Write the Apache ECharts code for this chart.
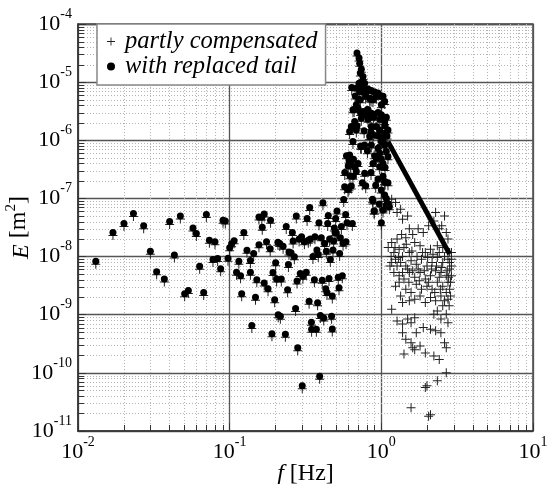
<!DOCTYPE html>
<html>
<head>
<meta charset="utf-8">
<script src="https://cdn.jsdelivr.net/npm/echarts@6/dist/echarts.min.js"></script>
<style>
html, body { margin: 0; padding: 0; background: #fff; }
#chart { width: 549px; height: 484px; }
</style>
</head>
<body>
<div id="chart"></div>
<script>
// decades shown on the axes (tick labels are 10^n)
const xDecades = [-2, -1, 0, 1];
const yDecades = [-11, -10, -9, -8, -7, -6, -5, -4];

// points shared by both spectra [f (Hz), E (m^2)]
const lowBand = [
  [0.0131,8.3e-9],[0.0170,2.6e-8],[0.0201,3.7e-8],[0.0232,5.5e-8],[0.0271,3.4e-8],[0.030,1.24e-8],
  [0.033,5.5e-9],[0.0371,4.1e-9],[0.0402,4.0e-8],[0.0432,1.06e-8],[0.0473,5.0e-8],[0.0505,2.3e-9],
  [0.0534,2.6e-9],[0.0573,3.1e-8],[0.0603,2.5e-8],[0.0634,6.8e-9],[0.0674,2.4e-9],[0.0702,5.3e-8],
  [0.0735,1.9e-8],[0.0776,8.9e-9],[0.080,1.8e-8],[0.0833,9.3e-9],[0.0872,6.2e-9],[0.0904,4.2e-8],
  [0.0936,4.1e-8],[0.0975,9.4e-9],[0.100,1.42e-8],[0.103,1.66e-8],[0.107,1.87e-8],[0.111,5.4e-9],
  [0.115,8.3e-9],[0.118,4.7e-9],[0.120,2.3e-9],[0.124,2.6e-8],[0.130,1.29e-8],[0.137,8.6e-9],
  [0.137,5.4e-9],[0.140,6.5e-10],[0.144,1.13e-8],[0.148,2.0e-9],[0.151,4.0e-9],[0.156,1.6e-8],
  [0.156,4.8e-8],[0.163,4.8e-8],[0.164,3.2e-8],[0.169,5.4e-8],[0.169,3.5e-9],[0.175,1.8e-8],
  [0.179,2.8e-9],[0.186,4.2e-8],[0.185,1.36e-8],[0.190,4.7e-10],[0.193,5.3e-9],[0.198,1.8e-9],
  [0.201,7.8e-9],[0.204,4.1e-9],[0.208,1.77e-8],[0.209,1.0e-9],[0.214,1.68e-8],[0.216,9.4e-10],
  [0.219,4.1e-9],[0.225,1.5e-8],[0.233,4.6e-10],[0.236,3.3e-8],[0.241,2.7e-9],[0.244,7.3e-9],
  [0.246,1.2e-8],[0.254,1.16e-8],[0.259,2.6e-8],[0.262,1.85e-8],[0.267,9.9e-9],[0.272,1.28e-9],
  [0.275,5.0e-8],[0.278,3.8e-9],[0.281,2.7e-10],[0.287,2.0e-8],[0.292,5.1e-9],[0.298,2.2e-8],
  [0.301,6.0e-11],[0.304,4.6e-9],[0.311,1.8e-8],[0.320,5.4e-9],[0.324,4.5e-8],[0.330,1.9e-8],
  [0.334,1.7e-9],[0.337,7.0e-8],[0.340,2.0e-8],[0.346,7.4e-10],[0.347,5.6e-10],[0.354,1.0e-8],
  [0.362,4.0e-9],[0.365,2.2e-8],[0.373,5.6e-10],[0.376,1.3e-8],[0.380,1.6e-9],[0.384,1.09e-8],
  [0.388,3.8e-8],[0.392,8.7e-11],[0.396,9.7e-10],[0.402,2.1e-8],[0.408,3.9e-9],[0.412,8.4e-8],
  [0.417,8.8e-10],[0.423,1.68e-8],[0.430,2.8e-9],[0.434,1.24e-8],[0.438,2.4e-9],[0.443,3.7e-8],
  [0.447,5.1e-8],[0.452,4.2e-9],[0.456,2.0e-8],[0.461,8.9e-9],[0.470,9.4e-10],[0.475,2.1e-9],
  [0.475,5.7e-10],[0.480,1.3e-8],[0.485,1.85e-8],[0.490,3.1e-8],[0.495,2.6e-8],[0.500,4.5e-8],
  [0.505,2.55e-8],[0.510,6.1e-8],[0.520,4.4e-9],[0.526,2.9e-9],[0.531,1.13e-8],[0.537,2.1e-8],
  [0.545,3.3e-8],[0.553,4.7e-9],[0.559,1.7e-8],[0.565,9.6e-8],[0.573,1.59e-7],[0.582,5.3e-8],
  [0.585,1.8e-8],[0.594,3.8e-8],[0.603,1.43e-7],[0.612,1.53e-7],[0.634,1.63e-7],[0.644,3.7e-8],
  [0.750,1.86e-7],[0.881,9.0e-8],[0.895,6.1e-8],[0.918,1.68e-7]
];

const peakBand = [
  [0.691,3.16e-5],[0.713,2.59e-5],[0.72,2.12e-5],[0.738,1.67e-5],[0.727,1.43e-5],[0.757,1.25e-5],
  [0.75,1.03e-5],[0.713,9.6e-6],[0.776,9.6e-6],[0.684,7.9e-6],[0.72,6.9e-6],[0.765,6.9e-6],
  [0.817,7.6e-6],[0.859,7.2e-6],[0.904,6.8e-6],[0.951,6.5e-6],[0.927,5.7e-6],[1.026,5.7e-6],
  [1.052,4.65e-6],[1.0,4.07e-6],[0.788,5.7e-6],[0.838,5.3e-6],[0.881,4.97e-6],[0.727,4.97e-6],
  [0.684,4.07e-6],[0.65,3.34e-6],[0.702,3.57e-6],[0.757,3.13e-6],[0.817,3.34e-6],[0.796,2.74e-6],
  [0.859,2.93e-6],[0.89,2.5e-6],[0.951,3.0e-6],[1.0,2.74e-6],[1.079,2.5e-6],[1.052,2.1e-6],
  [0.817,2.3e-6],[0.738,2.4e-6],[0.667,2.1e-6],[0.634,1.73e-6],[0.618,1.42e-6],[0.684,1.51e-6],
  [0.859,1.73e-6],[0.927,1.73e-6],[0.975,1.51e-6],[1.052,1.32e-6],[1.106,1.51e-6],[1.09,1.19e-6],
  [1.026,1.09e-6],[1.0,9.5e-7],[0.838,1.16e-6],[0.881,1.24e-6],[0.776,8.3e-7],[0.738,7.8e-7],
  [0.65,9.5e-7],[0.618,5.6e-7],[0.612,4.6e-7],[0.625,3.8e-7],[0.667,3.5e-7],[0.702,4.0e-7],
  [0.859,8.3e-7],[0.951,7.3e-7],[0.975,6.0e-7],[1.052,8.3e-7],[1.079,6.4e-7],[0.927,4.9e-7],
  [0.881,4.0e-7],[0.975,3.5e-7],[1.026,4.0e-7],[1.106,5.2e-7],[0.776,2.7e-7],[0.684,2.9e-7],
  [0.65,2.4e-7],[1.026,2.4e-7],[1.052,1.95e-7],[1.106,1.86e-7],[1.0,1.4e-7],[1.052,1.15e-7],
  [1.079,1.0e-7],[1.079,7.7e-8],[1.106,8.2e-8],[1.0,3.8e-8],[1.026,6.3e-8],
  [0.638,8.1e-6],[0.673,5.8e-6],[0.71,5.1e-6],[0.748,7.6e-6],[0.789,6.7e-6],[0.855,5.1e-6],
  [0.926,6.2e-6],[1.0,5.8e-6],[0.662,3.4e-6],[0.73,3.0e-6],[0.81,3.4e-6],[0.892,2.8e-6],
  [0.977,2.3e-6],[1.058,1.78e-6],[0.692,1.78e-6],[0.77,1.46e-6],[0.855,1.37e-6],[0.951,1.2e-6],
  [1.03,9.2e-7],[0.73,8.0e-7],[0.81,6.6e-7],[0.902,5.4e-7],[1.0,4.7e-7],[1.058,3.4e-7],
  [0.655,4.7e-7],[0.855,2.8e-7],[0.951,2.15e-7],[1.058,1.9e-7],[0.789,1.65e-7],[0.589,5.4e-7],
  [0.605,3.6e-7],[0.621,2.45e-7],[0.574,2.8e-7],[0.875,9.7e-8],[0.90,6.1e-8],[0.97,8.0e-8],
  [1.13,7.2e-8]
];

// "partly compensated" only, above ~1.1 Hz
const compensatedTail = [
  [1.17,9.7e-8],[1.24,8.5e-8],[1.11,8.0e-8],[1.27,5.7e-8],[1.34,6.5e-8],[1.38,4.4e-8],[1.49,5.0e-8],
  [2.28,5.7e-8],[2.61,5.0e-8],[2.41,3.0e-8],[2.68,2.6e-8],[2.75,2.0e-8],[2.50,3.4e-8],[2.22,4.1e-8],
  [2.05,3.4e-8],[1.89,2.6e-8],[1.75,3.0e-8],[1.61,2.4e-8],[1.53,3.0e-8],[1.45,2.1e-8],[1.36,2.4e-8],
  [1.27,2.0e-8],[1.17,1.75e-8],[1.11,1.43e-8],[1.21,1.17e-8],[1.31,1.34e-8],[1.41,1.43e-8],[1.53,1.17e-8],
  [1.66,1.75e-8],[1.80,1.53e-8],[1.95,1.17e-8],[2.11,1.34e-8],[2.34,1.53e-8],[2.54,1.43e-8],[2.82,1.17e-8],
  [2.75,9.0e-9],[2.54,7.9e-9],[2.34,9.6e-9],[2.16,7.9e-9],[2.0,6.9e-9],[1.84,9.0e-9],[1.70,7.4e-9],
  [1.57,8.5e-9],[1.45,6.9e-9],[1.34,7.9e-9],[1.24,9.0e-9],[1.14,6.9e-9],[1.21,5.3e-9],[1.31,4.7e-9],
  [1.41,4.1e-9],[1.53,5.3e-9],[1.66,4.4e-9],[1.80,5.3e-9],[1.95,4.1e-9],[2.11,4.7e-9],[2.28,5.7e-9],
  [2.47,5.3e-9],[2.68,4.7e-9],[2.82,6.1e-9],[2.90,6.9e-9],[2.75,3.6e-9],[2.54,3.1e-9],[2.34,3.6e-9],
  [2.16,2.75e-9],[2.0,3.1e-9],[1.84,2.75e-9],[1.70,3.35e-9],[1.57,2.4e-9],[1.45,2.75e-9],[1.34,2.1e-9],
  [1.24,3.1e-9],[1.38,1.62e-9],[1.53,1.73e-9],[1.66,1.85e-9],[1.80,2.1e-9],[1.95,1.62e-9],[2.11,1.97e-9],
  [2.28,1.73e-9],[2.47,2.1e-9],[2.68,2.4e-9],[2.82,2.75e-9],[2.75,1.85e-9],[2.54,1.42e-9],[2.34,1.16e-9],
  [2.22,1.02e-9],[2.68,1.02e-9],[2.47,8.4e-10],[2.75,7.3e-10],[1.17,1.24e-9],[1.27,7.8e-10],[1.38,6.9e-10],
  [1.49,8.4e-10],[1.57,7.3e-10],[1.66,8.9e-10],[1.70,4.9e-10],[1.89,6.0e-10],[2.11,5.6e-10],[2.28,5.3e-10],
  [2.47,4.9e-10],[2.61,3.3e-10],[2.68,2.7e-10],[1.38,4.9e-10],[1.45,3.8e-10],[1.57,3.3e-10],[1.66,2.5e-10],
  [1.80,2.9e-10],[1.95,2.2e-10],[2.22,1.95e-10],[2.41,1.7e-10],[1.41,2.1e-10],[1.61,2.7e-10],[2.34,7.3e-11],
  [2.68,1.0e-10],[1.95,5.6e-11],[2.0,6.0e-11],[1.57,2.5e-11],[2.05,1.8e-11],[2.11,1.9e-11],
  [1.16,1.0e-8],[1.23,1.43e-8],[1.30,9.6e-9],[1.38,1.0e-8],[1.46,1.63e-8],[1.59,1.25e-8],[1.72,1.0e-8],
  [1.87,1.17e-8],[2.02,9.6e-9],[2.19,1.1e-8],[2.41,1.17e-8],[2.61,1.0e-8],[2.82,7.9e-9],[2.90,4.7e-9],
  [2.86,3.6e-9],[2.72,5.7e-9],[2.50,6.5e-9],[2.31,6.9e-9],[2.14,6.1e-9],[1.92,5.7e-9],[1.75,6.1e-9],
  [1.61,5.7e-9],[1.49,6.1e-9],[1.38,5.3e-9],[1.27,6.9e-9],[1.17,7.9e-9],[1.31,3.6e-9],[1.52,3.6e-9],
  [1.78,3.85e-9],[2.05,3.6e-9],[2.41,4.4e-9],[2.78,4.4e-9],[2.45,2.75e-9],[2.25,2.4e-9],[2.61,1.73e-9],
  [2.80,1.42e-9],[2.86,2.1e-9],[2.90,9.0e-9],[2.90,1.17e-8]
];

// replaced tail: straight power-law segment
const replacedTail = [[1.106, 9.5e-7], [2.82, 1.1e-8]];

const SERIF = '"Liberation Serif", "DejaVu Serif", "Times New Roman", serif';
const PLUS = 'path://M4,0H5V9H4Z M0,4H9V5H0Z';
const bothPoints = lowBand.concat(peakBand);

function minorValues(decades) {
  const out = [];
  decades.slice(0, -1).forEach(d => {
    for (let m = 2; m <= 9; m++) out.push(m * Math.pow(10, d));
  });
  return out;
}

const supLabel = v => '{b|10}{s|' + Math.round(Math.log10(v)) + '}';
const labelRich = {
  b: { fontFamily: SERIF, fontSize: 22, color: '#000', lineHeight: 28, verticalAlign: 'bottom' },
  s: { fontFamily: SERIF, fontSize: 14, color: '#000', lineHeight: 14, verticalAlign: 'top' }
};

const px = v => Math.round(v) + 0.5;

const chart = echarts.init(document.getElementById('chart'));

chart.setOption({
  animation: false,
  backgroundColor: '#fff',
  textStyle: { fontFamily: SERIF },
  grid: {
    left: 78, right: 16, top: 24, bottom: 53,
    show: true, borderColor: '#444', borderWidth: 1.5,
    outerBoundsMode: 'none'
  },
  legend: {
    left: 97, top: 24, orient: 'vertical',
    padding: [5, 8, 6, 10], itemGap: 0,
    itemWidth: 8, itemHeight: 8,
    backgroundColor: '#fff', borderColor: '#888', borderWidth: 1.5,
    textStyle: { fontFamily: SERIF, fontStyle: 'italic', fontSize: 24.5, color: '#000', lineHeight: 23, padding: [0, 0, 0, 5] },
    data: [
      { name: 'partly compensated', icon: PLUS },
      { name: 'with replaced tail', icon: 'circle' }
    ]
  },
  xAxis: {
    type: 'log', logBase: 10,
    min: Math.pow(10, xDecades[0]), max: Math.pow(10, xDecades[xDecades.length - 1]),
    name: '{i|f} [Hz]', nameLocation: 'middle', nameGap: 31, nameMoveOverlap: false,
    nameTextStyle: {
      fontFamily: SERIF, fontSize: 24, color: '#000',
      rich: { i: { fontFamily: SERIF, fontStyle: 'italic', fontSize: 24, color: '#000' } }
    },
    axisLine: { show: true, lineStyle: { color: '#333', width: 1.5 } },
    axisTick: { show: true, inside: true, length: 8, lineStyle: { color: '#333' } },
    axisLabel: { formatter: supLabel, rich: labelRich, margin: 4 },
    splitLine: { show: true, lineStyle: { color: '#555', width: 1.3 } },
    minorTick: { show: false }, minorSplitLine: { show: false }
  },
  yAxis: {
    type: 'log', logBase: 10,
    min: Math.pow(10, yDecades[0]), max: Math.pow(10, yDecades[yDecades.length - 1]),
    name: '{i|E} [m{s|2}]', nameLocation: 'middle', nameGap: 44, nameRotate: 90, nameMoveOverlap: false,
    nameTextStyle: {
      fontFamily: SERIF, fontSize: 24, color: '#000',
      rich: {
        i: { fontFamily: SERIF, fontStyle: 'italic', fontSize: 24, color: '#000', lineHeight: 30, verticalAlign: 'bottom' },
        s: { fontFamily: SERIF, fontSize: 15, color: '#000', lineHeight: 15, verticalAlign: 'top' }
      }
    },
    axisLine: { show: true, lineStyle: { color: '#333', width: 1.5 } },
    axisTick: { show: true, inside: true, length: 8, lineStyle: { color: '#333' } },
    axisLabel: { formatter: supLabel, rich: labelRich, margin: 6, padding: [0, 0, 6, 0] },
    splitLine: { show: true, lineStyle: { color: '#555', width: 1.3 } },
    minorTick: { show: false }, minorSplitLine: { show: false }
  },
  series: [
    {
      // minor grid lines + ticks along x
      type: 'custom', silent: true, z: 1,
      data: minorValues(xDecades).map(v => [v, 1e-8]),
      renderItem: (params, api) => {
        const cs = params.coordSys;
        const x = px(api.coord([api.value(0), 1e-8])[0]);
        return { type: 'group', children: [
          { type: 'line', shape: { x1: x, y1: cs.y, x2: x, y2: cs.y + cs.height },
            style: { stroke: '#b4b4b4', lineWidth: 1, lineDash: [1, 2] } },
          { type: 'line', shape: { x1: x, y1: cs.y + cs.height, x2: x, y2: cs.y + cs.height - 6 },
            style: { stroke: '#333', lineWidth: 1 } }
        ] };
      }
    },
    {
      // minor grid lines + ticks along y
      type: 'custom', silent: true, z: 1,
      data: minorValues(yDecades).map(v => [0.1, v]),
      renderItem: (params, api) => {
        const cs = params.coordSys;
        const y = px(api.coord([0.1, api.value(1)])[1]);
        return { type: 'group', children: [
          { type: 'line', shape: { x1: cs.x, y1: y, x2: cs.x + cs.width, y2: y },
            style: { stroke: '#b4b4b4', lineWidth: 1, lineDash: [1, 2] } },
          { type: 'line', shape: { x1: cs.x, y1: y, x2: cs.x + 6, y2: y },
            style: { stroke: '#333', lineWidth: 1 } }
        ] };
      }
    },
    {
      name: 'partly compensated', type: 'scatter', z: 3,
      data: bothPoints, symbol: PLUS, symbolSize: 9, symbolOffset: [0, 3],
      itemStyle: { color: '#222', opacity: 1 }
    },
    {
      name: 'partly compensated', type: 'scatter', z: 3,
      data: compensatedTail, symbol: PLUS, symbolSize: 9,
      itemStyle: { color: '#222', opacity: 1 }
    },
    {
      name: 'with replaced tail', type: 'scatter', z: 4,
      data: bothPoints, symbol: 'circle', symbolSize: 7,
      itemStyle: { color: '#000', opacity: 1 }
    },
    {
      name: 'with replaced tail', type: 'line', z: 4,
      data: replacedTail, symbol: 'none',
      lineStyle: { color: '#000', width: 5 }
    }
  ]
});
</script>
</body>
</html>
